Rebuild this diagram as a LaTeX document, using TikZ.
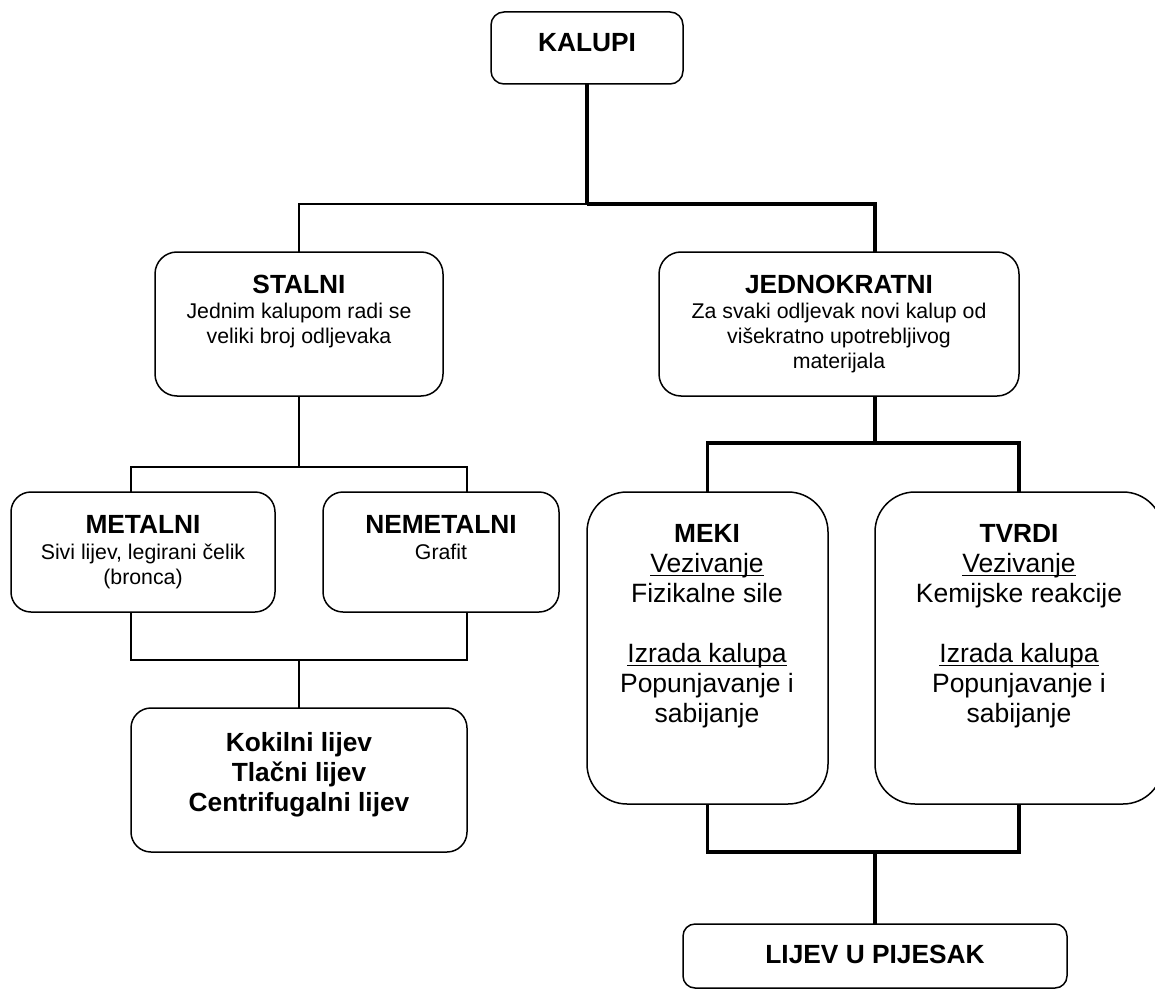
\documentclass[tikz,border=0pt]{standalone}
\usepackage{fontspec}
\setmainfont{Liberation Sans}
\begin{document}
\begin{tikzpicture}[x=1pt,y=-1pt,
  rbox/.style={draw, line width=1.5pt, rounded corners=#1, inner sep=0pt, outer sep=0pt, rectangle},
  thinline/.style={line width=1.5pt, line join=miter},
  thickline/.style={line width=3.8pt, line join=miter},
  tb/.style={font=\fontsize{26.3}{30}\selectfont\bfseries, inner sep=0pt, anchor=base},
  ts/.style={font=\fontsize{21.3}{25}\selectfont, inner sep=0pt, anchor=base},
  tm/.style={font=\fontsize{26.5}{30}\selectfont, inner sep=0pt, anchor=base},
  uline/.style={line width=1.5pt}]
\useasboundingbox (0,0) rectangle (1155,992);
\clip (0,0) rectangle (1155,992);

% boxes
\node[rbox=13pt, minimum width=192pt, minimum height=72pt] (kalupi) at (587,48) {};
\node[rbox=22pt, minimum width=288pt, minimum height=144pt] (stalni) at (299,324) {};
\node[rbox=22pt, minimum width=360pt, minimum height=144pt] (jedno) at (839,324) {};
\node[rbox=20pt, minimum width=264pt, minimum height=120pt] (metal) at (143,552) {};
\node[rbox=20pt, minimum width=236pt, minimum height=120pt] (nemetal) at (441,552) {};
\node[rbox=20pt, minimum width=336pt, minimum height=144pt] (kokil) at (299,780) {};
\node[rbox=40pt, minimum width=241pt, minimum height=312pt] (meki) at (707.5,648) {};
\node[rbox=40pt, minimum width=288pt, minimum height=312pt] (tvrdi) at (1019,648) {};
\node[rbox=12pt, minimum width=384pt, minimum height=64pt] (lijev) at (875,956) {};

% texts
\node[tb] (t-kalupi) at (587,52) {KALUPI};

\node[tb] (t-stalni) at (299,293) {STALNI};
\node[ts] (t-stalni2) at (299,318) {Jednim kalupom radi se};
\node[ts] (t-stalni3) at (299,343) {veliki broj odljevaka};

\node[tb] (t-jedno) at (839,293) {JEDNOKRATNI};
\node[ts] (t-jedno2) at (839,318) {Za svaki odljevak novi kalup od};
\node[ts] (t-jedno3) at (839,343) {višekratno upotrebljivog};
\node[ts] (t-jedno4) at (839,368) {materijala};

\node[tb] (t-metal) at (143,533) {METALNI};
\node[ts] (t-metal2) at (143,559) {Sivi lijev, legirani čelik};
\node[ts] (t-metal3) at (143,584) {(bronca)};

\node[tb] (t-nemetal) at (441,533) {NEMETALNI};
\node[ts] (t-nemetal2) at (441,559) {Grafit};

\node[tb] (t-kokil1) at (299,751) {Kokilni lijev};
\node[tb] (t-kokil2) at (299,781) {Tlačni lijev};
\node[tb] (t-kokil3) at (299,811) {Centrifugalni lijev};

\node[tb] (t-meki) at (707,542) {MEKI};
\node[tm] (t-meki2) at (707,572) {Vezivanje};
\node[tm] (t-meki3) at (707,602) {Fizikalne sile};
\node[tm] (t-meki4) at (707,662) {Izrada kalupa};
\node[tm] (t-meki5) at (707,692) {Popunjavanje i};
\node[tm] (t-meki6) at (707,722) {sabijanje};

\node[tb] (t-tvrdi) at (1019,542) {TVRDI};
\node[tm] (t-tvrdi2) at (1019,572) {Vezivanje};
\node[tm] (t-tvrdi3) at (1019,602) {Kemijske reakcije};
\node[tm] (t-tvrdi4) at (1019,662) {Izrada kalupa};
\node[tm] (t-tvrdi5) at (1019,692) {Popunjavanje i};
\node[tm] (t-tvrdi6) at (1019,722) {sabijanje};

\node[tb] (t-lijev) at (875,963) {LIJEV U PIJESAK};

% underlines
\foreach \n in {t-meki2,t-meki4,t-tvrdi2,t-tvrdi4}
  \draw[uline] ([yshift=-3.5pt]\n.base west) -- ([yshift=-3.5pt]\n.base east);

% junction coordinates
\coordinate (j1) at (587,204);
\coordinate (jd-top) at (875,252);
\coordinate (jd-bot) at (875,396);
\coordinate (j3) at (875,443);
\coordinate (j2) at (299,467);
\coordinate (m-top) at (131,492);
\coordinate (n-top) at (467,492);
\coordinate (m-bot) at (131,612);
\coordinate (n-bot) at (467,612);
\coordinate (j4) at (299,660);
\coordinate (j5) at (875,852);

% thin connectors
\draw[thinline] (j1) -| (stalni.north);
\draw[thinline] (stalni.south) -- (j2);
\draw[thinline] (m-top) |- (j2) -| (n-top);
\draw[thinline] (m-bot) |- (j4) -| (n-bot);
\draw[thinline] (j4) -- (kokil.north);

% thick connectors
\draw[thickline] (kalupi.south) -- (j1);
\draw[thickline] (j1) -| (jd-top);
\draw[thickline] (jd-bot) -- (j3);
\draw[thickline] (meki.north) |- (j3) -| (tvrdi.north);
\draw[thickline] (meki.south) |- (j5) -| (tvrdi.south);
\draw[thickline] (j5) -- (lijev.north);
\end{tikzpicture}
\end{document}
